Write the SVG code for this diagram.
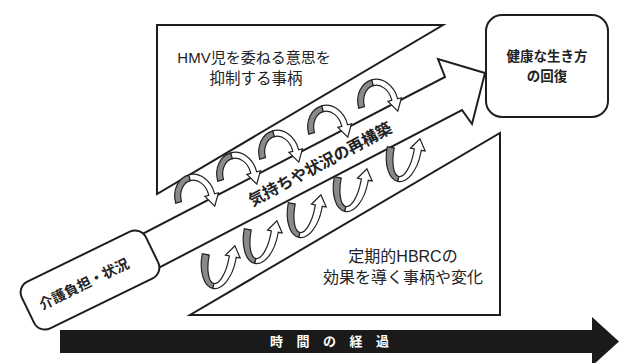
<svg xmlns="http://www.w3.org/2000/svg" width="627" height="363" viewBox="0 0 627 363">
<style>
.ln{fill:#fff;stroke:#1e1e1e;stroke-width:2;stroke-linejoin:miter}
.jp{font-family:"Liberation Sans","Noto Sans CJK JP",sans-serif;fill:#222}
.bd{font-family:"Noto Sans CJK JP",sans-serif;font-weight:bold;fill:#222}
.g{fill:#8a8a8a;stroke:#222;stroke-width:1.2}
.w{fill:#fff;stroke:#222;stroke-width:1.2}
</style>
<defs>
<g id="archCurl">
<path class="g" d="M -20 0 A 20 24 0 0 1 0 -24 L 0 -18 A 14 18 0 0 0 -14 0 Z"/>
<path class="w" d="M 0 -24 A 20 24 0 0 1 20 0 L 20 1 L 24 1 L 17 13 L 10 1 L 14 1 L 14 0 A 14 18 0 0 0 0 -18 Z"/>
</g>
<g id="uCurl">
<path class="g" d="M -17 0 A 17 32 0 0 0 0 32 L 0 27 A 10 27 0 0 1 -10 0 Z"/>
<path class="w" d="M 0 32 A 17 32 0 0 0 17 0 L 17 -3 L 21 -3 L 13.5 -14 L 6 -3 L 10 -3 L 10 0 A 10 27 0 0 1 0 27 Z"/>
</g>
</defs>
<rect width="627" height="363" fill="#fff"/>

<g id="upper-triangle">
<polygon class="ln" points="157,25 443,25 157,194"/>
<text class="jp" x="254" y="63" font-size="15" text-anchor="middle">HMV児を委ねる意思を</text>
<text class="jp" x="256" y="84" font-size="15.5" text-anchor="middle">抑制する事柄</text>
</g>

<g id="lower-triangle">
<polygon class="ln" points="500,133 500,315 190,315"/>
<text class="jp" x="403" y="262" font-size="16" text-anchor="middle">定期的HBRCの</text>
<text class="jp" x="403" y="283" font-size="16" text-anchor="middle">効果を導く事柄や変化</text>
</g>

<g id="connectors">
<g id="main-arrow">
<polygon class="ln" points="100,256 445,77 438,59 485,73 472,124 462,110 120,288"/>
<text class="bd" font-size="16" text-anchor="middle" transform="translate(320,164) rotate(-28)" y="6">気持ちや状況の再構築</text>
</g>
<g id="upper-curls">
<use href="#archCurl" transform="translate(195,198) rotate(-15)"/>
<use href="#archCurl" transform="translate(237,176) rotate(-15)"/>
<use href="#archCurl" transform="translate(279,154) rotate(-15)"/>
<use href="#archCurl" transform="translate(328,129) rotate(-15)"/>
<use href="#archCurl" transform="translate(378,103) rotate(-15)"/>
</g>
<g id="lower-curls">
<use href="#uCurl" transform="translate(219,257) rotate(11)"/>
<use href="#uCurl" transform="translate(261,232) rotate(11)"/>
<use href="#uCurl" transform="translate(305,206) rotate(11)"/>
<use href="#uCurl" transform="translate(351,180) rotate(11)"/>
<use href="#uCurl" transform="translate(404,150) rotate(11)"/>
</g>
<g id="time-arrow">
<rect x="60" y="330" width="535" height="23" fill="#1a1a1a"/>
<polygon points="592,317 619,341.5 592,366" fill="#1a1a1a"/>
<text font-family="Noto Sans CJK JP,sans-serif" font-weight="bold" font-size="13" fill="#fff" x="270" y="346" letter-spacing="13.5">時間の経過</text>
</g>
</g>

<g id="node-burden">
<rect class="ln" x="-69" y="-26" width="138" height="52" rx="12" transform="translate(90,280) rotate(-26)" stroke-width="2.5"/>
<text class="bd" font-size="14" text-anchor="middle" transform="translate(84,284) rotate(-26)" y="5">介護負担・状況</text>
</g>

<g id="node-recovery">
<rect class="ln" x="486" y="15" width="122" height="102" rx="16" stroke-width="2.5"/>
<text class="bd" font-size="13.5" x="547" y="61" text-anchor="middle">健康な生き方</text>
<text class="bd" font-size="13.5" x="547" y="81" text-anchor="middle">の回復</text>
</g>
</svg>
